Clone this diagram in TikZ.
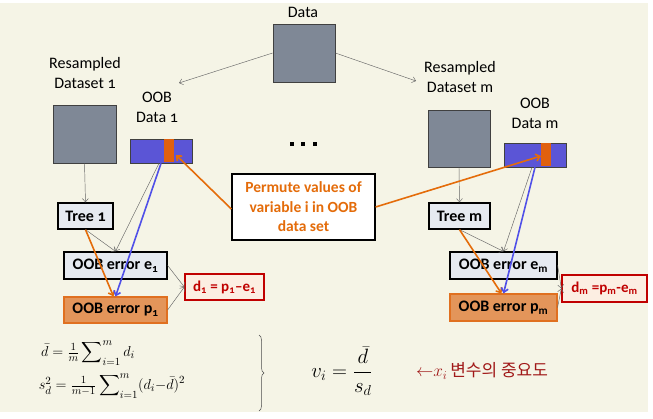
\documentclass[tikz,border=0pt]{standalone}
\usepackage{amsmath}
\usepackage{fontspec}
\setmainfont{Carlito}[Numbers=OldStyle]
\newfontfamily\cjkfont{Noto Sans CJK KR}
\usetikzlibrary{arrows.meta,decorations.pathreplacing,calc}
\definecolor{bgcream}{HTML}{F5F4E6}
\definecolor{boxgray}{HTML}{7F8896}
\definecolor{barblue}{HTML}{5B55D6}
\definecolor{stripeor}{HTML}{E0600E}
\definecolor{lightbox}{HTML}{E6EAF0}
\definecolor{orfill}{HTML}{E3955A}
\definecolor{orbord}{HTML}{E07020}
\definecolor{dred}{HTML}{C00000}
\definecolor{dfill}{HTML}{FCEEE2}
\definecolor{ptext}{HTML}{E46C0A}
\definecolor{arrorange}{HTML}{E46C0A}
\definecolor{arrblue}{HTML}{5050E8}
\definecolor{krred}{HTML}{A01818}
\tikzset{
 gbox/.style={draw=black!75, line width=0.7pt, fill=boxgray, inner sep=0pt},
 barbox/.style={draw=black!75, line width=0.7pt, fill=barblue, inner sep=0pt},
 stripebox/.style={fill=stripeor, draw=none, inner sep=0pt},
 lbox/.style={draw=black, line width=1.3pt, fill=lightbox, inner sep=0pt, font=\bfseries\fontsize{16}{18}\selectfont},
 obox/.style={draw=orbord, line width=1.1pt, fill=orfill, inner sep=0pt, font=\bfseries\fontsize{16}{18}\selectfont},
 dbox/.style={draw=dred, line width=1.3pt, fill=dfill, text=dred, inner sep=0pt, font=\bfseries\fontsize{15}{18}\selectfont},
 pbox/.style={draw=black, line width=1.3pt, fill=white, text=ptext, inner sep=0pt, align=center, font=\bfseries\fontsize{15.5}{19.5}\selectfont},
 lab/.style={inner sep=0pt, align=center, font=\fontsize{16}{20}\selectfont},
 thinarr/.style={draw=black!60, line width=0.45pt, -{Straight Barb[length=3.5pt,width=6pt]}},
 oarr/.style={draw=arrorange, line width=1.6pt, -{Straight Barb[length=4pt,width=7pt]}},
 barr/.style={draw=arrblue, line width=1.6pt, -{Straight Barb[length=4pt,width=7pt]}},
 formula/.style={inner sep=0pt, font=\fontsize{15.5}{18}\selectfont},
}
\begin{document}
\begin{tikzpicture}[x=1pt,y=-1pt]
\useasboundingbox (0,0) rectangle (653,419);
\fill[bgcream] (0,3) rectangle (648,412);

% labels
\node[lab] (ldata) at (303,12) {Data};
\node[lab] (lrs1) at (85,73) {Resampled\\Dataset 1};
\node[lab] (loob1) at (157,107) {OOB\\Data 1};
\node[lab] (lrsm) at (460,77) {Resampled\\Dataset m};
\node[lab] (loobm) at (535,113) {OOB\\Data m};

% gray data boxes
\node[gbox, minimum width=62pt, minimum height=58pt] (data) at (304,53) {};
\node[gbox, minimum width=63pt, minimum height=58pt] (rs1) at (84.5,134) {};
\node[gbox, minimum width=62pt, minimum height=57pt] (rsm) at (459,138.5) {};

% OOB bars
\node[barbox, minimum width=62pt, minimum height=24pt] (oob1) at (161,151) {};
\node[stripebox, minimum width=10pt, minimum height=23pt] (st1) at (169,151) {};
\node[barbox, minimum width=62pt, minimum height=24pt] (oobm) at (535,155) {};
\node[stripebox, minimum width=10pt, minimum height=23pt] (stm) at (546,155) {};

% dots
\fill (290,142) rectangle (294,146);
\fill (301,142) rectangle (305,146);
\fill (313,142) rectangle (317,146);

% trees and errors
\node[lbox, minimum width=55pt, minimum height=26pt] (tree1) at (85.5,216) {Tree 1};
\node[lbox, minimum width=61pt, minimum height=26pt] (treem) at (459.5,216) {Tree m};
\node[lbox, minimum width=103pt, minimum height=27pt] (e1) at (115.5,265.5) {OOB error e\textsubscript{1}};
\node[obox, minimum width=103pt, minimum height=26pt] (p1) at (115.5,310) {OOB error p\textsubscript{1}};
\node[dbox, minimum width=79pt, minimum height=26pt] (d1) at (224.5,287) {d\textsubscript{1} = p\textsubscript{1}--e\textsubscript{1}};
\node[lbox, minimum width=107pt, minimum height=27pt] (em) at (503.5,265.5) {OOB error e\textsubscript{m}};
\node[obox, minimum width=107pt, minimum height=27pt] (pm) at (503.5,307.5) {OOB error p\textsubscript{m}};
\node[dbox, minimum width=85pt, minimum height=27pt] (dm) at (604.5,288.5) {d\textsubscript{m} =p\textsubscript{m}-e\textsubscript{m}};

% permute box
\node[pbox, minimum width=143pt, minimum height=66pt] (perm) at (303.5,207) {Permute values of\\variable i in OOB\\data set};

% arrows from data
\coordinate (a1) at (179,83);
\coordinate (am) at (416,81);
\draw[thinarr] (data.west) -- (a1);
\draw[thinarr] (data.east) -- (am);

\draw[thinarr] (rs1.south) -- (tree1.north);
\draw[thinarr] (rsm.south) -- (treem.north);

\draw[thinarr] (tree1.south) -- (e1.north);
\draw[thinarr] ([xshift=-2pt]oob1.south) -- (e1.north);
\draw[oarr] (tree1.south) -- ([xshift=-2pt]p1.north);
\draw[barr] (oob1.south) -- (p1.north);

\draw[thinarr] (treem.south) -- (em.north);
\draw[thinarr] ([xshift=-3pt]oobm.south) -- (em.north);
\draw[oarr] (treem.south) -- ([xshift=-2pt]pm.north);
\draw[barr] (oobm.south) -- (pm.north);

\draw[thinarr] (e1.east) -- (d1.west);
\draw[thinarr] (p1.east) -- (d1.west);
\draw[thinarr] (em.east) -- (dm.west);
\draw[thinarr] (pm.east) -- (dm.west);

\coordinate (t1) at (176,155);
\coordinate (tm) at (541,156);
\draw[oarr] ([yshift=-2pt]perm.west) -- (t1);
\draw[oarr] (perm.east) -- (tm);

% formulas
\node[formula] (fd) at (88,353) {$\bar d = \tfrac{1}{m}\displaystyle\sum\nolimits_{i=1}^{m} d_i$};
\node[formula] (fs) at (112,386) {$s_d^2 = \tfrac{1}{m-1}\displaystyle\sum\nolimits_{i=1}^{m} (d_i{-}\bar d)^2$};
\draw[black!70, line width=0.5pt, decorate, decoration={brace, amplitude=5pt}] (259,335) -- (259,411);
\node[inner sep=0pt, font=\fontsize{20}{24}\selectfont] (fv) at (342,371) {$v_i = \dfrac{\bar d}{s_d}$};
\node[inner sep=0pt, text=krred, font=\fontsize{17}{20}\selectfont] (kr) at (482,371) {$\mathord{\leftarrow}x_i$\,{\cjkfont 변수의\ 중요도}};
\end{tikzpicture}
\end{document}
